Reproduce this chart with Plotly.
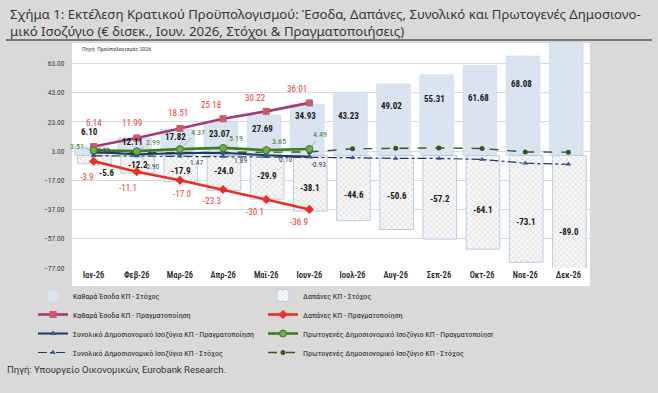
import plotly.graph_objects as go

# ---------------- data ----------------
cats = ["Ιαν-26", "Φεβ-26", "Μαρ-26", "Απρ-26", "Μαϊ-26", "Ιουν-26",
        "Ιουλ-26", "Αυγ-26", "Σεπ-26", "Οκτ-26", "Νοε-26", "Δεκ-26"]
rev_target = [6.10, 12.11, 17.82, 23.07, 27.69, 34.93, 43.23, 49.02, 55.31, 61.68, 68.08, 80.0]
spend_target = [-5.6, -12.2, -17.9, -24.0, -29.9, -38.1, -44.6, -50.6, -57.2, -64.1, -73.1, -89.0]
rev_real = [6.14, 11.99, 18.51, 25.18, 30.22, 36.01]
spend_real = [-3.9, -11.1, -17.0, -23.3, -30.1, -36.9]
overall_real = [2.23, 0.90, 1.47, 1.89, 0.10, -0.93]
primary_real = [3.51, 2.99, 4.37, 5.19, 3.65, 4.49]
overall_target = [-0.2, -0.4, -0.5, -0.6, -0.8, -1.0, -1.5, -2.0, -2.0, -2.7, -5.3, -6.0]
primary_target = [1.8, 1.9, 2.0, 2.1, 2.2, 2.4, 4.6, 5.0, 5.2, 4.8, 2.4, 2.3]
yticks = [-77, -57, -37, -17, 3, 23, 43, 63]

# label placement (style only)
rev_target_lbl_y = [15.8, 9.0, 12.4, 14.9, 18.3, 27.0, 27.0, 33.8, 38.4, 39.1, 48.7, None]
spend_target_lbl_y = [-10.6, -6.2, -10.6, -10.6, -14.0, -22.0, -27.3, -28.0, -30.0, -37.6, -45.8, -52.6]
rev_real_off = [(0, -24), (-5, -15), (-2, -15), (-12, -14), (-11, -13), (-12, -14)]
spend_real_off = [(-7, 16), (-9, 16), (2, 14), (-11, 11), (-11, 13), (-10, 13)]
primary_real_off = [(-17, -4), (16, -9), (18, -17), (13, -9), (13, -9), (11, -14)]
overall_real_off = [(10, -2), (16, 12), (17, 9), (17, 8), (19, 4), (9, 8)]

W, H = 658, 393
L, R, T, B = 72, 68, 43, 125
pw, ph = W - L - R, H - T - B


def px(x):
    return (x - L) / pw


def py(y):
    return (H - B - y) / ph


COND = "Noto Sans Condensed, Noto Sans ExtraCondensed, Liberation Sans Narrow, Roboto Condensed, Roboto, sans-serif"

fig = go.Figure()
fig.add_trace(go.Bar(
    x=cats, y=rev_target, name="Καθαρά Έσοδα ΚΠ - Στόχος",
    marker=dict(color="#dae4f1", line=dict(color="#c8d7eb", width=0.6)),
    width=0.78, offset=-0.44, legendrank=1, hoverinfo="skip"))
fig.add_trace(go.Bar(
    x=cats, y=spend_target, name="Δαπάνες ΚΠ - Στόχος",
    marker=dict(color="#f0f0f0", line=dict(color="#b8cde8", width=1),
                pattern=dict(shape="x", fgcolor="#bdbdbd", bgcolor="#f7f7f7", size=4, solidity=0.3)),
    width=0.78, offset=-0.37, legendrank=2, hoverinfo="skip"))
fig.add_trace(go.Scatter(
    x=cats, y=overall_target, name="Συνολικό Δημοσιονομικό Ισοζύγιο ΚΠ - Στόχος",
    mode="lines+markers", line=dict(color="#1f3864", width=1.2, dash="dashdot"),
    marker=dict(symbol="triangle-up", size=5, color="#2f5597"), legendrank=7))
fig.add_trace(go.Scatter(
    x=cats, y=primary_target, name="Πρωτογενές Δημοσιονομικό Ισοζύγιο ΚΠ - Στόχος",
    mode="lines+markers", line=dict(color="#375623", width=1.4, dash="dash"),
    marker=dict(symbol="circle", size=5, color="#375623"), legendrank=8))
fig.add_trace(go.Scatter(
    x=cats[:6], y=spend_real, name="Δαπάνες ΚΠ - Πραγματοποίηση",
    mode="lines+markers", line=dict(color="#ee2b24", width=2.6),
    marker=dict(symbol="diamond", size=7, color="#ee2b24"), legendrank=4))
fig.add_trace(go.Scatter(
    x=cats[:6], y=rev_real, name="Καθαρά Έσοδα ΚΠ - Πραγματοποίηση",
    mode="lines+markers", line=dict(color="#a23c78", width=2.6),
    marker=dict(symbol="square", size=7, color="#c95a6a"), legendrank=3))
fig.add_trace(go.Scatter(
    x=cats[:6], y=overall_real, name="Συνολικό Δημοσιονομικό Ισοζύγιο ΚΠ - Πραγματοποίηση",
    mode="lines+markers", line=dict(color="#203864", width=2),
    marker=dict(symbol="triangle-up", size=6, color="#2f5597"), legendrank=5))
fig.add_trace(go.Scatter(
    x=cats[:6], y=primary_real, name="Πρωτογενές Δημοσιονομικό Ισοζύγιο ΚΠ - Πραγματοποίηση",
    mode="lines+markers", line=dict(color="#3b7d23", width=2.6),
    marker=dict(symbol="circle", size=7, color="#70ad47", line=dict(color="#3b7d23", width=1)),
    legendrank=6))

ann = []
lbl_black = dict(family=COND, size=9, color="#1a1a1a", weight="bold")
for c, v, ly in zip(cats, rev_target, rev_target_lbl_y):
    if ly is None:
        continue
    ann.append(dict(x=c, y=ly, text=f"{v:.2f}", showarrow=False, xshift=-4, font=lbl_black))
for i, (c, v, ly) in enumerate(zip(cats, spend_target, spend_target_lbl_y)):
    if i == 0:
        ann.append(dict(x=c, y=v / 2, text=f"{v:.1f}", showarrow=True, arrowhead=0,
                        arrowwidth=0.7, arrowcolor="#7f7f7f", ax=13, ay=13, standoff=1,
                        font=lbl_black))
        continue
    ann.append(dict(x=c, y=ly, text=f"{v:.1f}", showarrow=False, xshift=1, font=lbl_black))
for c, v, (dx, dy) in zip(cats, rev_real, rev_real_off):
    ann.append(dict(x=c, y=v, text=f"{v:.2f}", showarrow=False, xshift=dx, yshift=-dy,
                    font=dict(family=COND, size=9, color="#e2403c")))
for c, v, (dx, dy) in zip(cats, spend_real, spend_real_off):
    ann.append(dict(x=c, y=v, text=f"{v:.1f}", showarrow=False, xshift=dx, yshift=-dy,
                    font=dict(family=COND, size=9, color="#e2403c")))
for c, v, (dx, dy) in zip(cats, primary_real, primary_real_off):
    ann.append(dict(x=c, y=v, text=f"{v:.2f}", showarrow=True, arrowhead=0, arrowwidth=0.6,
                    arrowcolor="#8a8a8a", ax=dx, ay=dy, standoff=3,
                    font=dict(family=COND, size=8, color="#3f7f2a")))
for i, (c, v, (dx, dy)) in enumerate(zip(cats, overall_real, overall_real_off)):
    ann.append(dict(x=c, y=v, text=f"{v:.2f}", showarrow=(i > 0), arrowhead=0, arrowwidth=0.6,
                    arrowcolor="#8a8a8a", ax=dx, ay=dy, standoff=3,
                    xshift=(dx if i == 0 else 0), yshift=(-dy if i == 0 else 0),
                    font=dict(family=COND, size=7.5, color="#404040")))

ann.append(dict(xref="paper", yref="paper", x=px(8), y=py(14), xanchor="left", yanchor="middle",
                text="Σχήμα 1: Εκτέλεση Κρατικού Προϋπολογισμού: Έσοδα, Δαπάνες, Συνολικό και Πρωτογενές Δημοσιονο-",
                showarrow=False, font=dict(family="Noto Sans", size=13.2, color="#383838")))
ann.append(dict(xref="paper", yref="paper", x=px(8), y=py(31), xanchor="left", yanchor="middle",
                text="μικό Ισοζύγιο (€ δισεκ., Ιουν. 2026, Στόχοι & Πραγματοποιήσεις)",
                showarrow=False, font=dict(family="Noto Sans", size=13.2, color="#383838")))
ann.append(dict(xref="paper", yref="paper", x=px(80), y=py(49), xanchor="left", yanchor="middle",
                text="Πηγή: Προϋπολογισμός 2026", showarrow=False,
                font=dict(family=COND, size=6, color="#404040")))
ann.append(dict(xref="paper", yref="paper", x=px(5), y=py(369), xanchor="left", yanchor="middle",
                text="Πηγή: Υπουργείο Οικονομικών, Eurobank Research.", showarrow=False,
                font=dict(family="Roboto", size=9.5, color="#333333")))

shapes = [
    dict(type="rect", xref="paper", yref="paper", x0=0, x1=1, y0=py(286), y1=py(43),
         fillcolor="white", line=dict(width=0), layer="below"),
    dict(type="line", xref="paper", yref="paper", x0=px(6), x1=px(652), y0=py(40), y1=py(40),
         line=dict(color="#1a1a1a", width=1.2)),
]

tick_font = dict(family=COND, size=7.5, color="#404040")
fig.update_layout(
    width=W, height=H, margin=dict(l=L, r=R, t=T, b=B),
    paper_bgcolor="#d9d9d9", plot_bgcolor="white",
    barmode="overlay",
    showlegend=True,
    legend=dict(orientation="h", x=px(33), y=py(281), xanchor="left", yanchor="top",
                entrywidth=185, entrywidthmode="pixels", traceorder="normal",
                font=dict(family=COND, size=8, color="#262626"), bgcolor="rgba(0,0,0,0)",
                itemwidth=30),
    xaxis=dict(type="category", range=[-0.5, 11.5], showgrid=False, zeroline=False,
               showline=False, ticks="",
               tickfont=dict(family=COND, size=8.5, color="#2a2a2a", weight=600)),
    yaxis=dict(range=[-77, 77], tickvals=yticks, tickformat=".2f", showgrid=True,
               gridcolor="#d9d9d9", gridwidth=1, zeroline=False, showline=False,
               ticks="outside", ticklen=5, tickcolor="rgba(0,0,0,0)", tickfont=tick_font),
    yaxis2=dict(range=[-77, 77], tickvals=yticks, tickformat=".2f", overlaying="y", side="right",
                showgrid=False, zeroline=False, showline=False,
                ticks="outside", ticklen=4, tickcolor="rgba(0,0,0,0)", tickfont=tick_font),
    annotations=ann, shapes=shapes,
)

fig.write_html("out.html")
